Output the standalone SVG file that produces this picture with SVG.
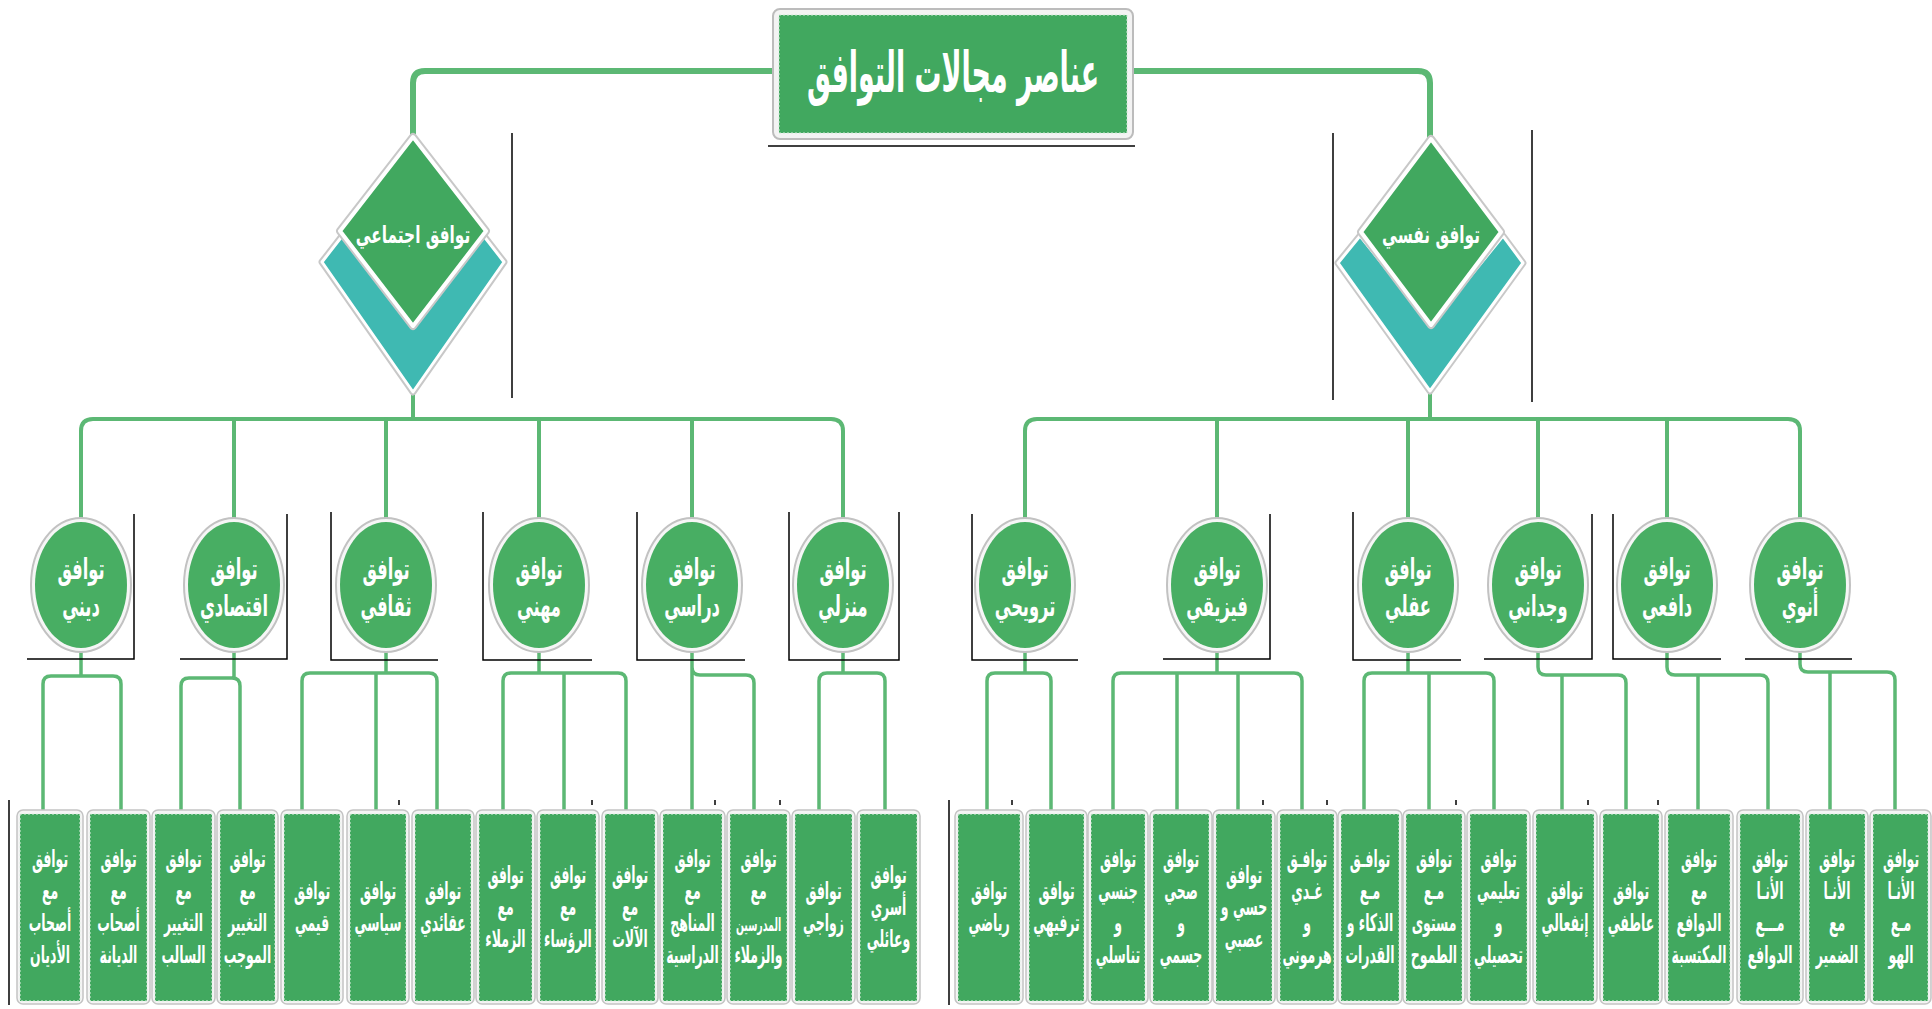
<svg xmlns="http://www.w3.org/2000/svg" width="1932" height="1009" viewBox="0 0 1932 1009">
<style>
.c1{fill:none;stroke:#5cb874;stroke-width:6;stroke-linecap:round;stroke-linejoin:round}
.c2{fill:none;stroke:#5cb874;stroke-width:4;stroke-linecap:round;stroke-linejoin:round}
.c3{fill:none;stroke:#5cb874;stroke-width:3.5;stroke-linecap:round;stroke-linejoin:round}
.bk{stroke:#000;stroke-width:1.5;fill:none}
.lo{fill:#f4f4f4;stroke:#c4c4c4;stroke-width:1.5}
.li{fill:#41a85f;stroke:#dff0e4;stroke-width:1;stroke-dasharray:2 2}
.eo{fill:#f6f6f6;stroke:#c2c2c2;stroke-width:2}
.ei{fill:#48ae63}
.t{font-family:"DejaVu Sans",sans-serif;font-weight:bold;fill:#fff;text-anchor:middle}
.lt{font-size:24px}
.et{font-size:29px}
.dg{fill:#41a85f;stroke:#fff;stroke-width:4;stroke-linejoin:round}
.dgs{fill:none;stroke:#c8c8c8;stroke-width:8;stroke-linejoin:round}
.tl{fill:#3fb9b2;stroke:#fff;stroke-width:3;stroke-linejoin:round}
.tls{fill:none;stroke:#c8c8c8;stroke-width:7;stroke-linejoin:round}
</style>
<rect width="1932" height="1009" fill="#fff"/>

<g id="connectors">
  <path class="c1" d="M775 71 H425 Q413 71 413 83 V138"/>
  <path class="c1" d="M1131 71 H1418 Q1430 71 1430 83 V140"/>
  <path class="c2" d="M413 392 V419"/>
  <path class="c2" d="M81 520 V431 Q81 419 93 419 H831 Q843 419 843 431 V520"/>
  <path class="c2" d="M234 419 V520 M386 419 V520 M539 419 V520 M692 419 V520"/>
  <path class="c2" d="M1430 391 V419"/>
  <path class="c2" d="M1025 520 V431 Q1025 419 1037 419 H1788 Q1800 419 1800 431 V520"/>
  <path class="c2" d="M1217 419 V520 M1408 419 V520 M1538 419 V520 M1667 419 V520"/>

  <path class="c3" d="M81 650 V676 M43 812 V684 Q43 676 51 676 H113 Q121 676 121 684 V812"/>
  <path class="c3" d="M234 650 V678 M181 812 V686 Q181 678 189 678 H232 Q240 678 240 686 V812"/>
  <path class="c3" d="M386 650 V673 M302 812 V681 Q302 673 310 673 H429 Q437 673 437 681 V812 M376 673 V812"/>
  <path class="c3" d="M539 650 V673 M503 812 V681 Q503 673 511 673 H618 Q626 673 626 681 V812 M564 673 V812"/>
  <path class="c3" d="M692 650 V812 M692 667 Q692 675 700 675 H746 Q754 675 754 683 V812"/>
  <path class="c3" d="M843 650 V673 M819 812 V681 Q819 673 827 673 H877 Q885 673 885 681 V812"/>

  <path class="c3" d="M1025 650 V673 M987 812 V681 Q987 673 995 673 H1043 Q1051 673 1051 681 V812"/>
  <path class="c3" d="M1217 650 V673 M1113 812 V681 Q1113 673 1121 673 H1294 Q1302 673 1302 681 V812 M1177 673 V812 M1238 673 V812"/>
  <path class="c3" d="M1408 650 V673 M1364 812 V681 Q1364 673 1372 673 H1486 Q1494 673 1494 681 V812 M1429 673 V812"/>
  <path class="c3" d="M1538 650 V667 Q1538 675 1546 675 H1618 Q1626 675 1626 683 V812 M1562 675 V812"/>
  <path class="c3" d="M1667 650 V667 Q1667 675 1675 675 H1760 Q1768 675 1768 683 V812 M1698 675 V812"/>
  <path class="c3" d="M1800 650 V664 Q1800 672 1808 672 H1887 Q1895 672 1895 680 V812 M1830 672 V812"/>
</g>

<g id="artifact-lines">
  <path class="bk" d="M768 146 H1135"/>
  <path class="bk" d="M512 133 V398 M1333 133 V400 M1532 130 V402"/>
  <path class="bk" d="M134 514 V659 H27 M287 514 V659 H180 M331 512 V660 H438 M483 512 V660 H592 M637 512 V660 H745 M789 512 V660 H899 V512"/>
  <path class="bk" d="M972 514 V660 H1078 M1270 514 V659 H1163 M1353 512 V660 H1461 M1592 514 V659 H1484 M1613 514 V659 H1721 M1745 659 H1852"/>
  <path class="bk" d="M9 800 V1005 M949 800 V1005"/>
  <path class="bk" d="M399 800 V805 M592 800 V805 M715 800 V805 M780 800 V805 M1012 800 V805 M1263 800 V805 M1327 800 V805 M1456 800 V805 M1588 800 V805 M1658 800 V805"/>
</g>

<g id="root">
  <rect x="773" y="9" width="360" height="130" rx="7" fill="#f3f3f3" stroke="#bcbcbc" stroke-width="2"/>
  <rect x="779" y="15" width="348" height="118" fill="#41a85f" stroke="#cfe9d6" stroke-width="1" stroke-dasharray="2 2"/>
  <text class="t" transform="translate(953 0) scale(0.48 1)" x="0" y="92" font-size="56">عناصر مجالات التوافق</text>
</g>

<g id="d-social">
  <polygon class="tls" points="322,262 413,392 504,262 483,235 413,326 343,235"/>
  <polygon class="tl" points="322,262 413,392 504,262 483,235 413,326 343,235"/>
  <polygon class="dgs" points="413,137 486,231 413,326 340,231"/>
  <polygon class="dg" points="413,137 486,231 413,326 340,231"/>
  <text class="t" transform="translate(413 0) scale(0.64 1)" x="0" y="243" font-size="24">توافق اجتماعي</text>
</g>
<g id="d-psych">
  <polygon class="tls" points="1338,263 1430,391 1523,263 1503,236 1431,325 1360,236"/>
  <polygon class="tl" points="1338,263 1430,391 1523,263 1503,236 1431,325 1360,236"/>
  <polygon class="dgs" points="1431,139 1501,232 1431,325 1361,232"/>
  <polygon class="dg" points="1431,139 1501,232 1431,325 1361,232"/>
  <text class="t" transform="translate(1431 0) scale(0.64 1)" x="0" y="243" font-size="24">توافق نفسي</text>
</g>

<g id="e-dini"><ellipse class="eo" cx="81" cy="585" rx="50" ry="67"/><ellipse class="ei" cx="81" cy="585" rx="46" ry="63"/><text class="t et" transform="translate(81 0) scale(0.56 1)"><tspan x="0" y="579">توافق</tspan><tspan x="0" y="616">ديني</tspan></text></g>
<g id="e-iqtisadi"><ellipse class="eo" cx="234" cy="585" rx="50" ry="67"/><ellipse class="ei" cx="234" cy="585" rx="46" ry="63"/><text class="t et" transform="translate(234 0) scale(0.56 1)"><tspan x="0" y="579">توافق</tspan><tspan x="0" y="616">اقتصادي</tspan></text></g>
<g id="e-thaqafi"><ellipse class="eo" cx="386" cy="585" rx="50" ry="67"/><ellipse class="ei" cx="386" cy="585" rx="46" ry="63"/><text class="t et" transform="translate(386 0) scale(0.56 1)"><tspan x="0" y="579">توافق</tspan><tspan x="0" y="616">ثقافي</tspan></text></g>
<g id="e-mihani"><ellipse class="eo" cx="539" cy="585" rx="50" ry="67"/><ellipse class="ei" cx="539" cy="585" rx="46" ry="63"/><text class="t et" transform="translate(539 0) scale(0.56 1)"><tspan x="0" y="579">توافق</tspan><tspan x="0" y="616">مهني</tspan></text></g>
<g id="e-dirasi"><ellipse class="eo" cx="692" cy="585" rx="50" ry="67"/><ellipse class="ei" cx="692" cy="585" rx="46" ry="63"/><text class="t et" transform="translate(692 0) scale(0.56 1)"><tspan x="0" y="579">توافق</tspan><tspan x="0" y="616">دراسي</tspan></text></g>
<g id="e-manzili"><ellipse class="eo" cx="843" cy="585" rx="50" ry="67"/><ellipse class="ei" cx="843" cy="585" rx="46" ry="63"/><text class="t et" transform="translate(843 0) scale(0.56 1)"><tspan x="0" y="579">توافق</tspan><tspan x="0" y="616">منزلي</tspan></text></g>
<g id="e-tarwihi"><ellipse class="eo" cx="1025" cy="585" rx="50" ry="67"/><ellipse class="ei" cx="1025" cy="585" rx="46" ry="63"/><text class="t et" transform="translate(1025 0) scale(0.56 1)"><tspan x="0" y="579">توافق</tspan><tspan x="0" y="616">ترويحي</tspan></text></g>
<g id="e-fiziqi"><ellipse class="eo" cx="1217" cy="585" rx="50" ry="67"/><ellipse class="ei" cx="1217" cy="585" rx="46" ry="63"/><text class="t et" transform="translate(1217 0) scale(0.56 1)"><tspan x="0" y="579">توافق</tspan><tspan x="0" y="616">فيزيقي</tspan></text></g>
<g id="e-aqli"><ellipse class="eo" cx="1408" cy="585" rx="50" ry="67"/><ellipse class="ei" cx="1408" cy="585" rx="46" ry="63"/><text class="t et" transform="translate(1408 0) scale(0.56 1)"><tspan x="0" y="579">توافق</tspan><tspan x="0" y="616">عقلي</tspan></text></g>
<g id="e-wijdani"><ellipse class="eo" cx="1538" cy="585" rx="50" ry="67"/><ellipse class="ei" cx="1538" cy="585" rx="46" ry="63"/><text class="t et" transform="translate(1538 0) scale(0.56 1)"><tspan x="0" y="579">توافق</tspan><tspan x="0" y="616">وجداني</tspan></text></g>
<g id="e-dafi"><ellipse class="eo" cx="1667" cy="585" rx="50" ry="67"/><ellipse class="ei" cx="1667" cy="585" rx="46" ry="63"/><text class="t et" transform="translate(1667 0) scale(0.56 1)"><tspan x="0" y="579">توافق</tspan><tspan x="0" y="616">دافعي</tspan></text></g>
<g id="e-anawi"><ellipse class="eo" cx="1800" cy="585" rx="50" ry="67"/><ellipse class="ei" cx="1800" cy="585" rx="46" ry="63"/><text class="t et" transform="translate(1800 0) scale(0.56 1)"><tspan x="0" y="579">توافق</tspan><tspan x="0" y="616">أنوي</tspan></text></g>

<g id="l1"><rect class="lo" x="17" y="810" width="66" height="194" rx="6"/><rect class="li" x="20" y="814" width="60" height="187"/><text class="t lt" transform="translate(50 0) scale(0.52 1)"><tspan x="0" y="867">توافق</tspan><tspan x="0" y="899">مع</tspan><tspan x="0" y="931">أصحاب</tspan><tspan x="0" y="963">الأديان</tspan></text></g>
<g id="l2"><rect class="lo" x="87" y="810" width="63" height="194" rx="6"/><rect class="li" x="90" y="814" width="57" height="187"/><text class="t lt" transform="translate(118.5 0) scale(0.52 1)"><tspan x="0" y="867">توافق</tspan><tspan x="0" y="899">مع</tspan><tspan x="0" y="931">أصحاب</tspan><tspan x="0" y="963">الديانة</tspan></text></g>
<g id="l3"><rect class="lo" x="152" y="810" width="63" height="194" rx="6"/><rect class="li" x="155" y="814" width="57" height="187"/><text class="t lt" transform="translate(183.5 0) scale(0.52 1)"><tspan x="0" y="867">توافق</tspan><tspan x="0" y="899">مع</tspan><tspan x="0" y="931">التغيير</tspan><tspan x="0" y="963">السالب</tspan></text></g>
<g id="l4"><rect class="lo" x="217" y="810" width="61" height="194" rx="6"/><rect class="li" x="220" y="814" width="55" height="187"/><text class="t lt" transform="translate(247.5 0) scale(0.52 1)"><tspan x="0" y="867">توافق</tspan><tspan x="0" y="899">مع</tspan><tspan x="0" y="931">التغيير</tspan><tspan x="0" y="963">الموجب</tspan></text></g>
<g id="l5"><rect class="lo" x="281" y="810" width="62" height="194" rx="6"/><rect class="li" x="284" y="814" width="56" height="187"/><text class="t lt" transform="translate(312 0) scale(0.52 1)"><tspan x="0" y="899">توافق</tspan><tspan x="0" y="931">قيمي</tspan></text></g>
<g id="l6"><rect class="lo" x="347" y="810" width="62" height="194" rx="6"/><rect class="li" x="350" y="814" width="56" height="187"/><text class="t lt" transform="translate(378 0) scale(0.52 1)"><tspan x="0" y="899">توافق</tspan><tspan x="0" y="931">سياسي</tspan></text></g>
<g id="l7"><rect class="lo" x="412" y="810" width="62" height="194" rx="6"/><rect class="li" x="415" y="814" width="56" height="187"/><text class="t lt" transform="translate(443 0) scale(0.52 1)"><tspan x="0" y="899">توافق</tspan><tspan x="0" y="931">عقائدي</tspan></text></g>
<g id="l8"><rect class="lo" x="476" y="810" width="59" height="194" rx="6"/><rect class="li" x="479" y="814" width="53" height="187"/><text class="t lt" transform="translate(505.5 0) scale(0.52 1)"><tspan x="0" y="883">توافق</tspan><tspan x="0" y="915">مع</tspan><tspan x="0" y="947">الزملاء</tspan></text></g>
<g id="l9"><rect class="lo" x="537" y="810" width="62" height="194" rx="6"/><rect class="li" x="540" y="814" width="56" height="187"/><text class="t lt" transform="translate(568 0) scale(0.52 1)"><tspan x="0" y="883">توافق</tspan><tspan x="0" y="915">مع</tspan><tspan x="0" y="947">الرؤساء</tspan></text></g>
<g id="l10"><rect class="lo" x="602" y="810" width="56" height="194" rx="6"/><rect class="li" x="605" y="814" width="50" height="187"/><text class="t lt" transform="translate(630 0) scale(0.52 1)"><tspan x="0" y="883">توافق</tspan><tspan x="0" y="915">مع</tspan><tspan x="0" y="947">الآلات</tspan></text></g>
<g id="l11"><rect class="lo" x="660" y="810" width="65" height="194" rx="6"/><rect class="li" x="663" y="814" width="59" height="187"/><text class="t lt" transform="translate(692.5 0) scale(0.52 1)"><tspan x="0" y="867">توافق</tspan><tspan x="0" y="899">مع</tspan><tspan x="0" y="931">المناهج</tspan><tspan x="0" y="963">الدراسية</tspan></text></g>
<g id="l12"><rect class="lo" x="727" y="810" width="63" height="194" rx="6"/><rect class="li" x="730" y="814" width="57" height="187"/><text class="t lt" transform="translate(758.5 0) scale(0.52 1)"><tspan x="0" y="867">توافق</tspan><tspan x="0" y="899">مع</tspan><tspan x="0" y="931" font-size="18">المدرسين</tspan><tspan x="0" y="963">والزملاء</tspan></text></g>
<g id="l13"><rect class="lo" x="792" y="810" width="63" height="194" rx="6"/><rect class="li" x="795" y="814" width="57" height="187"/><text class="t lt" transform="translate(823.5 0) scale(0.52 1)"><tspan x="0" y="899">توافق</tspan><tspan x="0" y="931">زواجي</tspan></text></g>
<g id="l14"><rect class="lo" x="857" y="810" width="63" height="194" rx="6"/><rect class="li" x="860" y="814" width="57" height="187"/><text class="t lt" transform="translate(888.5 0) scale(0.52 1)"><tspan x="0" y="883">توافق</tspan><tspan x="0" y="915">أسري</tspan><tspan x="0" y="947">وعائلي</tspan></text></g>

<g id="r1"><rect class="lo" x="955" y="810" width="68" height="194" rx="6"/><rect class="li" x="958" y="814" width="62" height="187"/><text class="t lt" transform="translate(989 0) scale(0.52 1)"><tspan x="0" y="899">توافق</tspan><tspan x="0" y="931">رياضي</tspan></text></g>
<g id="r2"><rect class="lo" x="1026" y="810" width="61" height="194" rx="6"/><rect class="li" x="1029" y="814" width="55" height="187"/><text class="t lt" transform="translate(1056.5 0) scale(0.52 1)"><tspan x="0" y="899">توافق</tspan><tspan x="0" y="931">ترفيهي</tspan></text></g>
<g id="r3"><rect class="lo" x="1088" y="810" width="60" height="194" rx="6"/><rect class="li" x="1091" y="814" width="54" height="187"/><text class="t lt" transform="translate(1118 0) scale(0.52 1)"><tspan x="0" y="867">توافق</tspan><tspan x="0" y="899">جنسي</tspan><tspan x="0" y="931">و</tspan><tspan x="0" y="963">تناسلي</tspan></text></g>
<g id="r4"><rect class="lo" x="1150" y="810" width="62" height="194" rx="6"/><rect class="li" x="1153" y="814" width="56" height="187"/><text class="t lt" transform="translate(1181 0) scale(0.52 1)"><tspan x="0" y="867">توافق</tspan><tspan x="0" y="899">صحي</tspan><tspan x="0" y="931">و</tspan><tspan x="0" y="963">جسمي</tspan></text></g>
<g id="r5"><rect class="lo" x="1213" y="810" width="62" height="194" rx="6"/><rect class="li" x="1216" y="814" width="56" height="187"/><text class="t lt" transform="translate(1244 0) scale(0.52 1)"><tspan x="0" y="883">توافق</tspan><tspan x="0" y="915">حسي و</tspan><tspan x="0" y="947">عصبي</tspan></text></g>
<g id="r6"><rect class="lo" x="1277" y="810" width="60" height="194" rx="6"/><rect class="li" x="1280" y="814" width="54" height="187"/><text class="t lt" transform="translate(1307 0) scale(0.52 1)"><tspan x="0" y="867">توافـق</tspan><tspan x="0" y="899">غـدي</tspan><tspan x="0" y="931">و</tspan><tspan x="0" y="963">هرموني</tspan></text></g>
<g id="r7"><rect class="lo" x="1338" y="810" width="64" height="194" rx="6"/><rect class="li" x="1341" y="814" width="58" height="187"/><text class="t lt" transform="translate(1370 0) scale(0.52 1)"><tspan x="0" y="867">توافـق</tspan><tspan x="0" y="899">مـع</tspan><tspan x="0" y="931">الذكاء و</tspan><tspan x="0" y="963">القدرات</tspan></text></g>
<g id="r8"><rect class="lo" x="1403" y="810" width="62" height="194" rx="6"/><rect class="li" x="1406" y="814" width="56" height="187"/><text class="t lt" transform="translate(1434 0) scale(0.52 1)"><tspan x="0" y="867">توافق</tspan><tspan x="0" y="899">مـع</tspan><tspan x="0" y="931">مستوى</tspan><tspan x="0" y="963">الطموح</tspan></text></g>
<g id="r9"><rect class="lo" x="1467" y="810" width="63" height="194" rx="6"/><rect class="li" x="1470" y="814" width="57" height="187"/><text class="t lt" transform="translate(1498.5 0) scale(0.52 1)"><tspan x="0" y="867">توافق</tspan><tspan x="0" y="899">تعليمي</tspan><tspan x="0" y="931">و</tspan><tspan x="0" y="963">تحصيلي</tspan></text></g>
<g id="r10"><rect class="lo" x="1533" y="810" width="64" height="194" rx="6"/><rect class="li" x="1536" y="814" width="58" height="187"/><text class="t lt" transform="translate(1565 0) scale(0.52 1)"><tspan x="0" y="899">توافق</tspan><tspan x="0" y="931">إنفعالي</tspan></text></g>
<g id="r11"><rect class="lo" x="1600" y="810" width="62" height="194" rx="6"/><rect class="li" x="1603" y="814" width="56" height="187"/><text class="t lt" transform="translate(1631 0) scale(0.52 1)"><tspan x="0" y="899">توافق</tspan><tspan x="0" y="931">عاطفي</tspan></text></g>
<g id="r12"><rect class="lo" x="1665" y="810" width="68" height="194" rx="6"/><rect class="li" x="1668" y="814" width="62" height="187"/><text class="t lt" transform="translate(1699 0) scale(0.52 1)"><tspan x="0" y="867">توافق</tspan><tspan x="0" y="899">مع</tspan><tspan x="0" y="931">الدوافع</tspan><tspan x="0" y="963">المكتسبة</tspan></text></g>
<g id="r13"><rect class="lo" x="1737" y="810" width="66" height="194" rx="6"/><rect class="li" x="1740" y="814" width="60" height="187"/><text class="t lt" transform="translate(1770 0) scale(0.52 1)"><tspan x="0" y="867">توافق</tspan><tspan x="0" y="899">الأنـا</tspan><tspan x="0" y="931">مـــع</tspan><tspan x="0" y="963">الدوافع</tspan></text></g>
<g id="r14"><rect class="lo" x="1806" y="810" width="62" height="194" rx="6"/><rect class="li" x="1809" y="814" width="56" height="187"/><text class="t lt" transform="translate(1837 0) scale(0.52 1)"><tspan x="0" y="867">توافق</tspan><tspan x="0" y="899">الأنـا</tspan><tspan x="0" y="931">مع</tspan><tspan x="0" y="963">الضمير</tspan></text></g>
<g id="r15"><rect class="lo" x="1870" y="810" width="61" height="194" rx="6"/><rect class="li" x="1873" y="814" width="55" height="187"/><text class="t lt" transform="translate(1901 0) scale(0.52 1)"><tspan x="0" y="867">توافق</tspan><tspan x="0" y="899">الأنـا</tspan><tspan x="0" y="931">مـع</tspan><tspan x="0" y="963">الهو</tspan></text></g>
</svg>
